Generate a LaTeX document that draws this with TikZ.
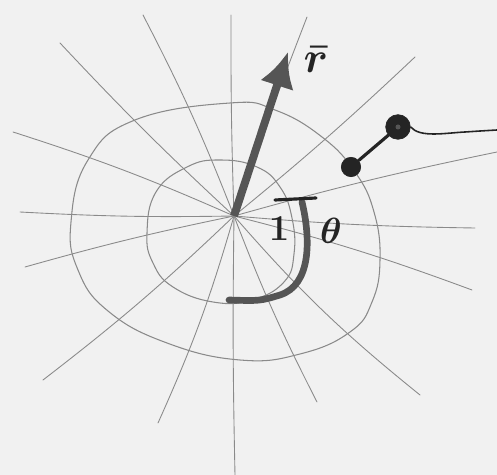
\documentclass[tikz,border=0pt]{standalone}
\usepackage{xcolor}
\usepackage{tikz}
\usetikzlibrary{arrows.meta,positioning,calc}
\definecolor{paper}{HTML}{F1F1F1}
\definecolor{pencil}{HTML}{8A8A8A}
\definecolor{graphite}{HTML}{555555}
\definecolor{ink}{HTML}{242424}
\tikzset{
  ray/.style   ={draw=pencil,line width=0.5pt,line cap=round},
  ring/.style  ={draw=pencil,line width=0.6pt},
  vec/.style   ={draw=graphite,line width=4.5pt,-{Latex[length=7mm,width=7mm]}},
  swirl/.style ={draw=graphite,line width=3.8pt,line cap=round},
  pen/.style   ={draw=ink,line width=1.8pt,line cap=round},
  ball/.style  ={circle,fill=ink,draw=ink,inner sep=0pt,minimum size=#1},
  lab/.style   ={inner sep=0pt,text=ink}
}
\begin{document}
\begin{tikzpicture}[x=0.02cm,y=-0.02cm]
  \fill[paper] (0,0) rectangle (497,475);
  \useasboundingbox (0,0) rectangle (497,475);
  \coordinate (O) at (234,216);
  % field lines out of the origin
  \foreach \ex/\ey/\b in {231/15/1, 143/15/-3, 60/43/2, 13/132/-3, 20/212/2,
                          25/267/-2, 43/380/3, 158/423/4, 235/475/-1,
                          317/402/-3, 420/395/-5, 472/290/3, 475/228/-2,
                          497/152/2, 415/57/-2, 307/17/1}
    \draw[ray] (O) to[bend left=\b] (\ex,\ey);
  % equipotentials
  \draw[ring] plot[smooth cycle,tension=0.75] coordinates {
      (71,222) (88,160) (135,120) (230,103) (275,110) (322,137) (355,172)
      (374,212) (380,260) (372,302) (350,332) (300,354) (240,360) (167,343)
      (108,311) (78,270)};
  \draw[ring] plot[smooth cycle,tension=0.75] coordinates {
      (147,233) (156,192) (187,167) (220,160) (257,167) (280,187) (292,218)
      (294,254) (284,282) (252,300) (213,302) (173,287) (153,263)};
  % unit vectors
  \coordinate (rtip) at (288,52);
  \draw[vec] (O) -- (rtip);
  \node[lab,font=\boldmath\Huge] (rlab) at (316,60) {$\bar{r}$};
  \coordinate (sw1) at (302,202);
  \coordinate (sw2) at (229,300);
  \draw[swirl] (sw1) .. controls (311,240) and (311,285) .. (280,295)
                     .. controls (260,301) .. (sw2);
  \coordinate (bar1) at (275,200);
  \coordinate (bar2) at (316,198);
  \draw[pen] (bar1) -- (bar2);
  \node[lab,font=\boldmath\huge] (one) at (279,229) {$1$};
  \node[lab,font=\boldmath\huge] (th) at (331,231) {$\theta$};
  % dipole
  \node[ball=11pt] (qa) at (351,167) {};
  \node[ball=14pt] (qb) at (398,127) {};
  \fill[graphite] (qb) circle (2.5);
  \draw[pen] (qa) -- (qb);
  \coordinate (tail) at (497,130);
  \draw[draw=ink,line width=0.9pt] (qb.east) .. controls (420,138) and (445,133) .. (465,132)
                                   .. controls (480,131) .. (tail);
\end{tikzpicture}
\end{document}
